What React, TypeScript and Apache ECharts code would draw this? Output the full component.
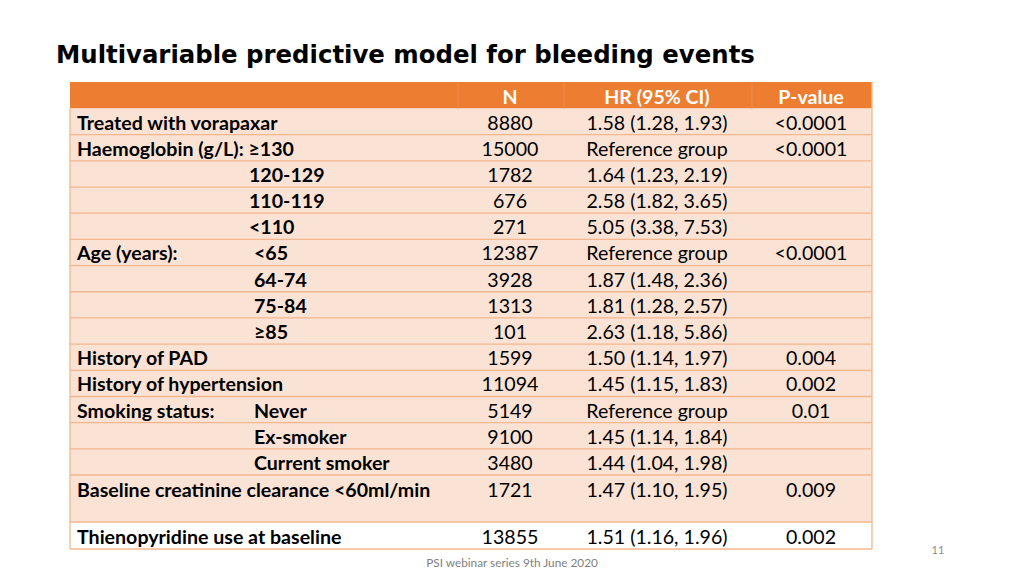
import React, { useEffect, useRef } from "react";
import * as echarts from "echarts";

const title = "Multivariable predictive model for bleeding events";
const headers = ["", "N", "HR (95% CI)", "P-value"];
const mainLabels = [
  "Treated with vorapaxar",
  "Haemoglobin (g/L): \u2265130",
  "",
  "",
  "",
  "Age (years):",
  "",
  "",
  "",
  "History of PAD",
  "History of hypertension",
  "Smoking status:",
  "",
  "",
  "Baseline creatinine clearance <60ml/min",
  "Thienopyridine use at baseline",
];
const subLabels = [
  "", "", "120-129", "110-119", "<110",
  "<65", "64-74", "75-84", "\u226585",
  "", "", "Never", "Ex-smoker", "Current smoker", "", "",
];
const subOffsets = [0, 0, 1, 1, 1, 2, 2, 2, 2, 0, 0, 2, 2, 2, 0, 0];
const nValues = [
  "8880", "15000", "1782", "676", "271", "12387", "3928", "1313", "101",
  "1599", "11094", "5149", "9100", "3480", "1721", "13855",
];
const hrValues = [
  "1.58 (1.28, 1.93)", "Reference group", "1.64 (1.23, 2.19)", "2.58 (1.82, 3.65)",
  "5.05 (3.38, 7.53)", "Reference group", "1.87 (1.48, 2.36)", "1.81 (1.28, 2.57)",
  "2.63 (1.18, 5.86)", "1.50 (1.14, 1.97)", "1.45 (1.15, 1.83)", "Reference group",
  "1.45 (1.14, 1.84)", "1.44 (1.04, 1.98)", "1.47 (1.10, 1.95)", "1.51 (1.16, 1.96)",
];
const pValues = [
  "<0.0001", "<0.0001", "", "", "", "<0.0001", "", "", "",
  "0.004", "0.002", "0.01", "", "", "0.009", "0.002",
];
const footer = "PSI webinar series 9th June 2020";
const pageNo = "11";

export default function App() {
  const ref = useRef<HTMLDivElement>(null);
  useEffect(() => {
    if (!ref.current) return;
    const chart = echarts.init(ref.current, null, { renderer: "svg" });
    const L = 70, R = 872;
    const colX = [458, 564, 752];
    const colC = [510, 657, 811];
    const headTop = 82, headBot = 108.5;
    const rowH = 26.18;
    const FONT = "Lato, 'Open Sans', sans-serif";
    const fs = 19.6;
    const lineColor = "#F4B68C";
    const els: any[] = [];
    const tops: number[] = [];
    const bots: number[] = [];
    let y = headBot;
    for (let i = 0; i < mainLabels.length; i++) {
      tops.push(y);
      const h = i === 14 ? 47 : i === 15 ? 27 : rowH;
      y += h;
      bots.push(y);
    }
    els.push({ type: "rect", shape: { x: L, y: headTop, width: R - L, height: headBot - headTop }, style: { fill: "#ED7D31" } });
    els.push({ type: "rect", shape: { x: L, y: headBot, width: R - L, height: bots[14] - headBot }, style: { fill: "#FAE3D5" } });
    els.push({ type: "rect", shape: { x: L, y: tops[15], width: R - L, height: bots[15] - tops[15] }, style: { fill: "#FFFFFF" } });
    colX.forEach((x) => {
      els.push({ type: "line", shape: { x1: x, y1: headTop, x2: x, y2: headBot }, style: { stroke: "#F08B4A", lineWidth: 1 } });
    });
    for (let i = 0; i < mainLabels.length; i++) {
      els.push({ type: "line", shape: { x1: L, y1: bots[i], x2: R, y2: bots[i] }, style: { stroke: lineColor, lineWidth: 1.3 } });
    }
    els.push({ type: "line", shape: { x1: L, y1: headBot, x2: L, y2: bots[15] }, style: { stroke: lineColor, lineWidth: 1.3 } });
    els.push({ type: "line", shape: { x1: R, y1: headTop, x2: R, y2: bots[15] }, style: { stroke: lineColor, lineWidth: 1.3 } });
    headers.forEach((h, j) => {
      if (!h) return;
      els.push({ type: "text", style: { text: h, x: colC[j - 1], y: (headTop + headBot) / 2 + 1, align: "center", verticalAlign: "middle", fill: "#FFFFFF", font: `bold ${fs}px ${FONT}` } });
    });
    const subX = [0, 249, 254];
    for (let i = 0; i < mainLabels.length; i++) {
      const cy = i === 14 ? tops[i] + 14 : (tops[i] + bots[i]) / 2 + 0.5;
      if (mainLabels[i]) {
        els.push({ type: "text", style: { text: mainLabels[i], x: 77, y: cy, align: "left", verticalAlign: "middle", fill: "#000000", font: `bold ${fs}px ${FONT}` } });
      }
      if (subLabels[i]) {
        els.push({ type: "text", style: { text: subLabels[i], x: subX[subOffsets[i]], y: cy, align: "left", verticalAlign: "middle", fill: "#000000", font: `bold ${fs}px ${FONT}` } });
      }
      const vals = [nValues[i], hrValues[i], pValues[i]];
      vals.forEach((v, j) => {
        if (!v) return;
        els.push({ type: "text", style: { text: v, x: colC[j], y: cy, align: "center", verticalAlign: "middle", fill: "#000000", font: `${fs}px ${FONT}` } });
      });
    }
    els.push({ type: "text", style: { text: title, x: 56, y: 54, align: "left", verticalAlign: "middle", fill: "#000000", font: `bold 24.4px 'DejaVu Sans', sans-serif` } });
    els.push({ type: "text", style: { text: footer, x: 512, y: 562, align: "center", verticalAlign: "middle", fill: "#7F7F7F", font: `11.8px ${FONT}` } });
    els.push({ type: "text", style: { text: pageNo, x: 938, y: 549, align: "center", verticalAlign: "middle", fill: "#8C8C8C", font: `11px ${FONT}` } });

    chart.setOption({ animation: false, graphic: { elements: els } });
    return () => chart.dispose();
  }, []);
  return (
    <div style={{ position: "fixed", left: 0, top: 0, width: 1024, height: 576, background: "#fff" }}>
      <div ref={ref} style={{ width: 1024, height: 576 }} />
    </div>
  );
}
